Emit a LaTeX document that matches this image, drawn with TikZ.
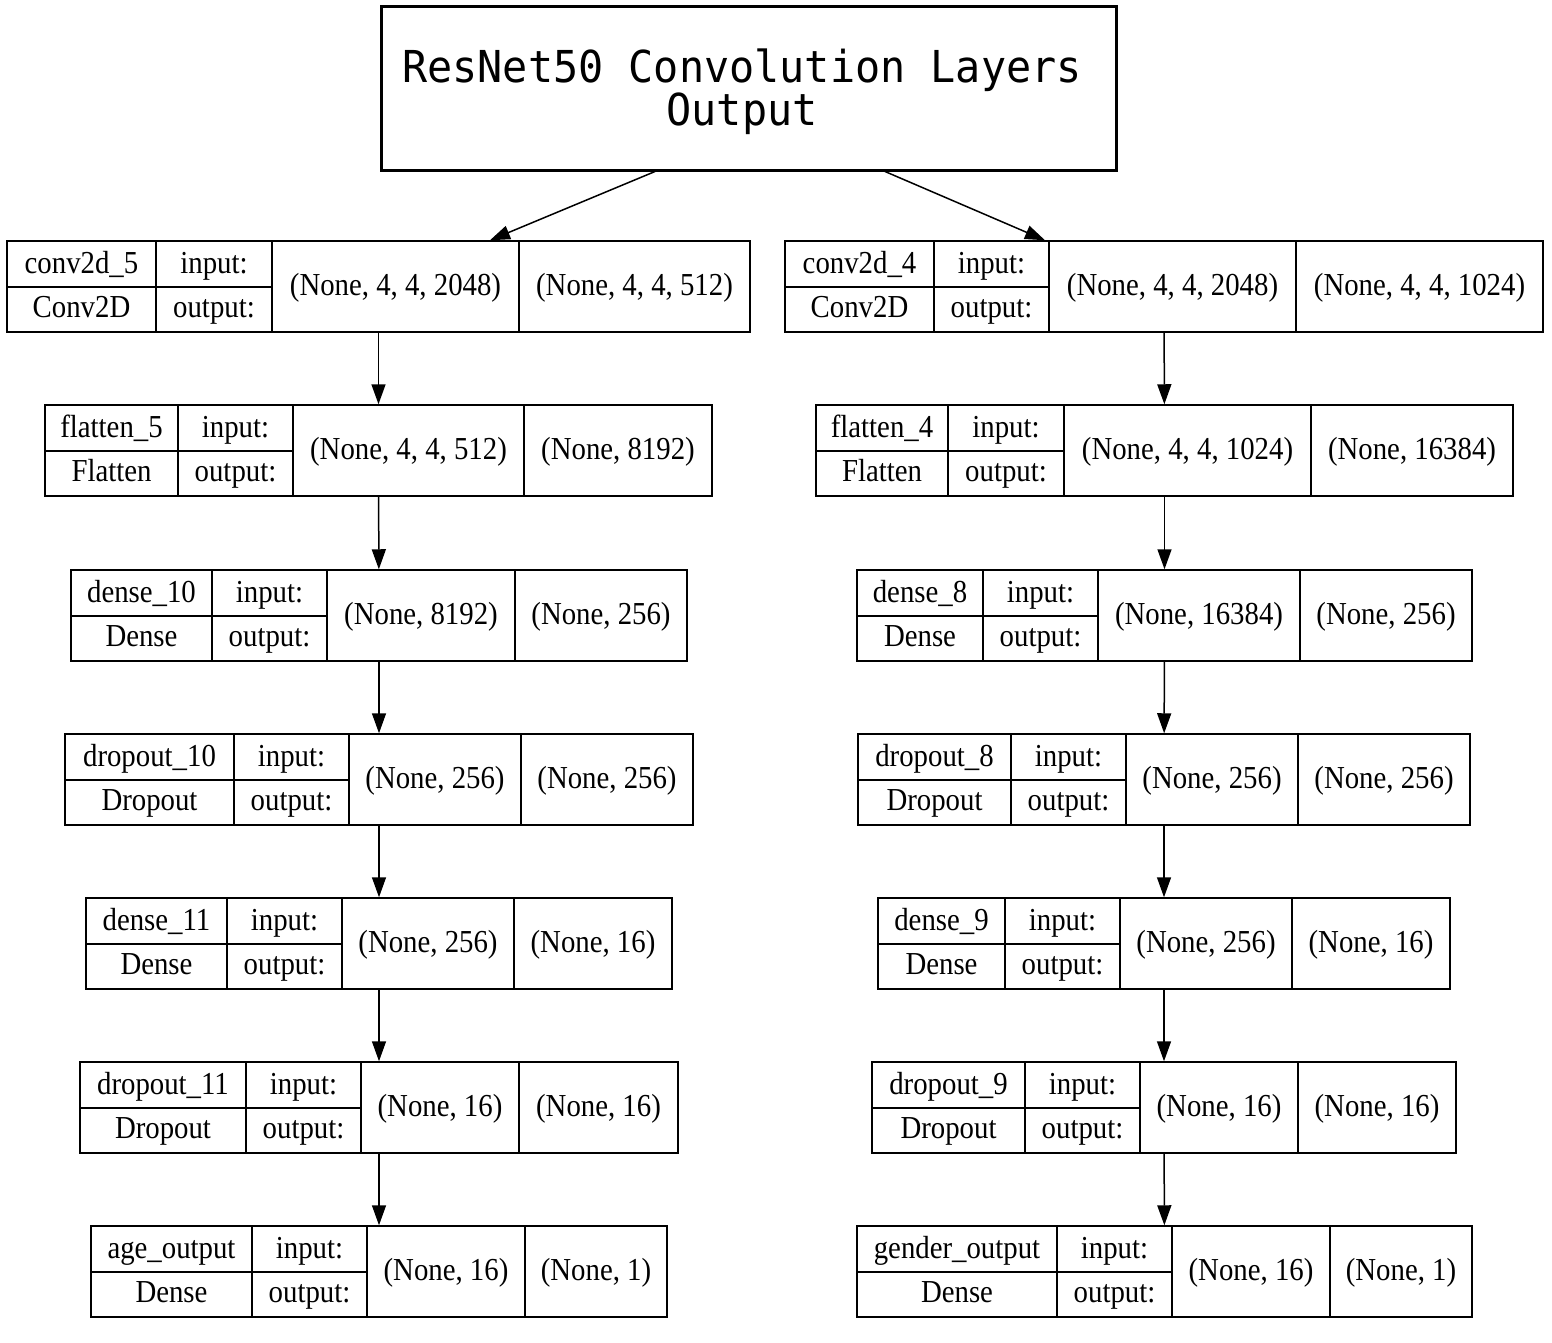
\documentclass[tikz,border=0pt]{standalone}
\usepackage{fontspec}
\setmainfont{Liberation Serif}[FakeStretch=0.9]
\newfontfamily\titlefont{DejaVu Sans Mono}[FakeStretch=0.95]
\usetikzlibrary{arrows.meta}

\tikzset{
  layerbox/.style={draw, line width=0.75pt, inner sep=0pt, minimum height=45.5pt},
  titlebox/.style={draw, line width=1.5pt, inner sep=0pt, minimum width=367.5pt, minimum height=81.5pt},
  celltext/.style={anchor=base, inner sep=0pt, font=\fontsize{16}{19}\selectfont},
  titletext/.style={anchor=base, inner sep=0pt, align=center, font=\titlefont\fontsize{22}{19}\selectfont},
  flow/.style={line width=0.75pt, -{Triangle[length=10pt, width=7pt]}}
}

% #1 node name, #2 top y, #3-#7 cell borders left to right, #8 layer name, #9 layer class
\newcommand{\layer}[9]{%
  \def\lyN{#1}\def\lyT{#2}\def\lyC{#5}\def\lyD{#6}\def\lyE{#7}%
  \node[layerbox, minimum width={(#7-#3)*0.5pt}] (#1) at ({(#3+#7)/2},{#2+45.5}) {};
  \draw[line width=0.75pt] (#4,#2) -- (#4,{#2+91}) (#5,#2) -- (#5,{#2+91})
    (#6,#2) -- (#6,{#2+91}) (#3,{#2+46}) -- (#5,{#2+46});
  \node[celltext] (#1-name) at ({(#3+#4)/2},{#2+32}) {#8};
  \node[celltext] (#1-class) at ({(#3+#4)/2},{#2+76}) {#9};
  \node[celltext] (#1-inlbl) at ({(#4+#5)/2},{#2+32}) {input:};
  \node[celltext] (#1-outlbl) at ({(#4+#5)/2},{#2+76}) {output:};
}
% #1 input shape, #2 output shape
\newcommand{\layershapes}[2]{%
  \node[celltext] (\lyN-in) at ({(\lyC+\lyD)/2},{\lyT+54}) {#1};
  \node[celltext] (\lyN-out) at ({(\lyD+\lyE)/2},{\lyT+54}) {#2};
}

\begin{document}
\begin{tikzpicture}[x=0.5pt,y=-0.5pt]
  \fill[white] (0,0) rectangle (1552,1343);
  \useasboundingbox (0,0) rectangle (1552,1343);

  % top block
  \node[titlebox] (top) at (748.5,88.5) {};
  \node[titletext] (title) at (742,126) {ResNet50 Convolution Layers\\Output};

  % age branch
  \layer{conv5}{241}{7}{156}{272}{519}{750}{conv2d\_5}{Conv2D}
  \layershapes{(None, 4, 4, 2048)}{(None, 4, 4, 512)}
  \layer{flat5}{405}{45}{178}{293}{524}{712}{flatten\_5}{Flatten}
  \layershapes{(None, 4, 4, 512)}{(None, 8192)}
  \layer{dense10}{570}{71}{212}{327}{515}{687}{dense\_10}{Dense}
  \layershapes{(None, 8192)}{(None, 256)}
  \layer{drop10}{734}{65}{234}{349}{521}{693}{dropout\_10}{Dropout}
  \layershapes{(None, 256)}{(None, 256)}
  \layer{dense11}{898}{86}{227}{342}{514}{672}{dense\_11}{Dense}
  \layershapes{(None, 256)}{(None, 16)}
  \layer{drop11}{1062}{80}{246}{361}{519}{678}{dropout\_11}{Dropout}
  \layershapes{(None, 16)}{(None, 16)}
  \layer{age}{1226}{91}{252}{367}{525}{667}{age\_output}{Dense}
  \layershapes{(None, 16)}{(None, 1)}

  % gender branch
  \layer{conv4}{241}{785}{934}{1049}{1296}{1543}{conv2d\_4}{Conv2D}
  \layershapes{(None, 4, 4, 2048)}{(None, 4, 4, 1024)}
  \layer{flat4}{405}{816}{948}{1064}{1311}{1513}{flatten\_4}{Flatten}
  \layershapes{(None, 4, 4, 1024)}{(None, 16384)}
  \layer{dense8}{570}{857}{983}{1098}{1300}{1472}{dense\_8}{Dense}
  \layershapes{(None, 16384)}{(None, 256)}
  \layer{drop8}{734}{858}{1011}{1126}{1298}{1470}{dropout\_8}{Dropout}
  \layershapes{(None, 256)}{(None, 256)}
  \layer{dense9}{898}{878}{1005}{1120}{1292}{1450}{dense\_9}{Dense}
  \layershapes{(None, 256)}{(None, 16)}
  \layer{drop9}{1062}{872}{1025}{1140}{1298}{1456}{dropout\_9}{Dropout}
  \layershapes{(None, 16)}{(None, 16)}
  \layer{gender}{1226}{857}{1057}{1172}{1330}{1472}{gender\_output}{Dense}
  \layershapes{(None, 16)}{(None, 1)}

  % links
  \draw[flow] ([xshift=-46.75pt]top.south) -- ([xshift=55.75pt]conv5.north);
  \draw[flow] ([xshift=68.25pt]top.south) -- ([xshift=-59.5pt]conv4.north);
  \draw[flow] (conv5) -- (flat5);
  \draw[flow] (flat5) -- (dense10);
  \draw[flow] (dense10) -- (drop10);
  \draw[flow] (drop10) -- (dense11);
  \draw[flow] (dense11) -- (drop11);
  \draw[flow] (drop11) -- (age);
  \draw[flow] (conv4) -- (flat4);
  \draw[flow] (flat4) -- (dense8);
  \draw[flow] (dense8) -- (drop8);
  \draw[flow] (drop8) -- (dense9);
  \draw[flow] (dense9) -- (drop9);
  \draw[flow] (drop9) -- (gender);
\end{tikzpicture}
\end{document}
